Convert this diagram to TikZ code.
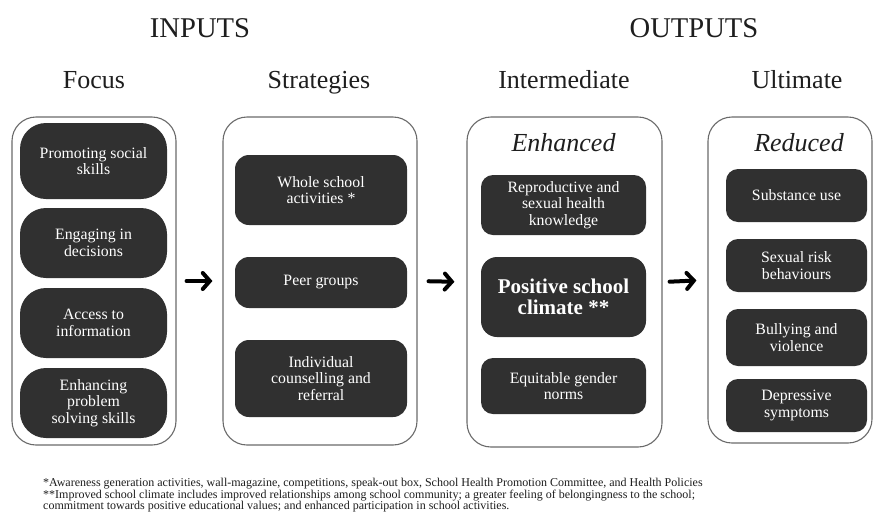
\documentclass[tikz,border=0pt]{standalone}
\usepackage{fontspec}
\setmainfont{Liberation Serif}
\usetikzlibrary{arrows.meta}
\definecolor{boxfill}{HTML}{303030}
\definecolor{framegray}{HTML}{6A6A6A}
\definecolor{ink}{HTML}{1E1E1E}
\tikzset{
  frame/.style={draw=framegray, line width=1.1pt, rounded corners=24pt, fill=white, inner sep=0pt},
  darkbox/.style={fill=boxfill, draw=none, text=white, align=center, inner sep=0pt,
    font=\fontsize{15.8}{16.6}\selectfont},
  title/.style={anchor=base, text=ink, font=\fontsize{28.6}{30}\selectfont},
  subtitle/.style={anchor=base, text=ink, font=\fontsize{26}{28}\selectfont},
  headital/.style={text=ink, font=\fontsize{26}{28}\selectfont\itshape},
  flowarrow/.style={draw=black, line width=4pt, line cap=round,
    -{Straight Barb[length=7pt,width=16pt,line cap=round]}},
  footnote/.style={anchor=north west, align=left, text=ink, inner sep=0pt,
    font=\fontsize{12}{11}\selectfont}
}
\begin{document}
\begin{tikzpicture}[x=1pt,y=-1pt]
\useasboundingbox (0,0) rectangle (874,512);
\fill[white] (0,0) rectangle (874,512);

% headings
\node[title] (inputs) at (200,37) {INPUTS};
\node[title] (outputs) at (694,37) {OUTPUTS};
\node[subtitle] (hfocus) at (94,88) {Focus};
\node[subtitle] (hstrat) at (319,88) {Strategies};
\node[subtitle] (hinter) at (564,88) {Intermediate};
\node[subtitle] (hult) at (797,88) {Ultimate};

% outer frames
\node[frame, minimum width=164pt, minimum height=328pt] (c1) at (94,281) {};
\node[frame, minimum width=194pt, minimum height=328pt] (c2) at (320,281) {};
\node[frame, minimum width=195pt, minimum height=330pt] (c3) at (564.5,282) {};
\node[frame, minimum width=164pt, minimum height=326pt] (c4) at (790,280) {};

% column 1: Focus
\begin{scope}[darkbox/.append style={rounded corners=26pt, minimum width=147pt}]
\node[darkbox, minimum height=76pt] (f1) at (93.5,161) {Promoting social\\skills};
\node[darkbox, minimum height=70pt] (f2) at (93.5,243) {Engaging in\\decisions};
\node[darkbox, minimum height=70pt] (f3) at (93.5,323) {Access to\\information};
\node[darkbox, minimum height=70pt] (f4) at (93.5,403) {Enhancing\\problem\\solving skills};
\end{scope}

% column 2: Strategies
\begin{scope}[darkbox/.append style={rounded corners=14pt, minimum width=172pt}]
\node[darkbox, minimum height=70pt] (s1) at (321,190) {Whole school\\activities *};
\node[darkbox, minimum height=51pt] (s2) at (321,282.5) {Peer groups};
\node[darkbox, minimum height=77pt] (s3) at (321,378.5) {Individual\\counselling and\\referral};
\end{scope}

% column 3: Intermediate
\node[headital] (enh) at (563.5,143) {Enhanced};
\begin{scope}[darkbox/.append style={rounded corners=12pt, minimum width=165pt}]
\node[darkbox, minimum height=60pt] (i1) at (563.5,205) {Reproductive and\\sexual health\\knowledge};
\node[darkbox, minimum height=80pt, rounded corners=16pt,
  font=\fontsize{21}{21}\selectfont\bfseries] (i2) at (563.5,297) {Positive school\\climate **};
\node[darkbox, minimum height=56pt] (i3) at (563.5,386) {Equitable gender\\norms};
\end{scope}

% column 4: Ultimate
\node[headital] (red) at (799,143) {Reduced};
\begin{scope}[darkbox/.append style={rounded corners=12pt, minimum width=141pt}]
\node[darkbox, minimum height=53pt] (u1) at (796.5,195.5) {Substance use};
\node[darkbox, minimum height=53pt] (u2) at (796.5,265.5) {Sexual risk\\behaviours};
\node[darkbox, minimum height=57pt] (u3) at (796.5,337.5) {Bullying and\\violence};
\node[darkbox, minimum height=53pt] (u4) at (796.5,405.5) {Depressive\\symptoms};
\end{scope}

% arrows
\draw[flowarrow, shorten <=10pt, shorten >=10pt] (c1.east) -- (c2.west);
\draw[flowarrow, shorten <=11pt, shorten >=12pt] (c2.east) -- (c3.west);
\draw[flowarrow, shorten <=7pt, shorten >=11pt] (c3.east) -- (c4.west);

% footnote
\node[footnote] (note) at (43,478) {*Awareness generation activities, wall-magazine, competitions, speak-out box, School Health Promotion Committee, and Health Policies\\
**Improved school climate includes improved relationships among school community; a greater feeling of belongingness to the school;\\
commitment towards positive educational values; and enhanced participation in school activities.};
\end{tikzpicture}
\end{document}
